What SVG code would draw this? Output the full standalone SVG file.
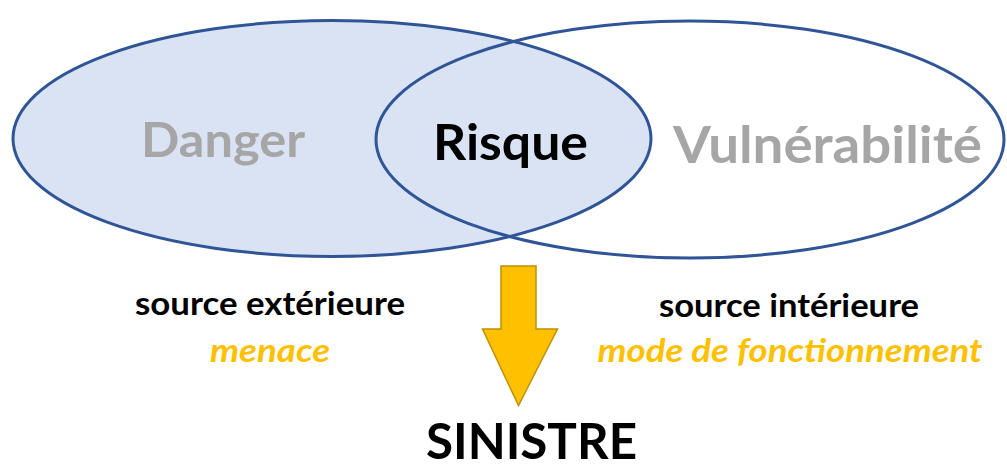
<svg xmlns="http://www.w3.org/2000/svg" width="1007" height="464" viewBox="0 0 1007 464">
  <style>
    .circle { stroke: #2f5597; stroke-width: 3; }
    .big { font-family: Lato, "Open Sans", sans-serif; font-weight: bold; text-anchor: middle; }
    .grey { fill: #a6a6a6; }
    .dark { fill: #000000; }
    .label { font-family: Lato, "Open Sans", sans-serif; font-weight: bold; font-size: 33px; text-anchor: middle; fill: #000000; }
    .accent { font-family: Lato, "Open Sans", sans-serif; font-weight: bold; font-style: italic; font-size: 33px; text-anchor: middle; fill: #ffc000; }
  </style>

  <!-- overlapping sets -->
  <g id="danger">
    <ellipse class="circle" cx="332" cy="138.5" rx="319" ry="118" fill="#dae3f3"/>
    <text class="big grey" x="223" y="157" font-size="47" textLength="164" lengthAdjust="spacingAndGlyphs">Danger</text>
  </g>
  <g id="vulnerabilite">
    <ellipse class="circle" cx="690" cy="139.5" rx="314" ry="118.5" fill="none"/>
    <text class="big grey" x="827.5" y="163" font-size="52" textLength="309" lengthAdjust="spacingAndGlyphs">Vulnérabilité</text>
  </g>
  <g id="risque">
    <text class="big dark" x="510.5" y="160" font-size="50" textLength="155" lengthAdjust="spacingAndGlyphs">Risque</text>
  </g>

  <!-- side annotations -->
  <g id="source-exterieure">
    <text class="label" x="270" y="315" textLength="270" lengthAdjust="spacingAndGlyphs">source extérieure</text>
    <text class="accent" x="270" y="362" textLength="120" lengthAdjust="spacingAndGlyphs">menace</text>
  </g>
  <g id="source-interieure">
    <text class="label" x="789" y="317" textLength="260" lengthAdjust="spacingAndGlyphs">source intérieure</text>
    <text class="accent" x="790" y="362" textLength="385" lengthAdjust="spacingAndGlyphs">mode de fonctionnement</text>
  </g>

  <!-- downward arrow to the outcome -->
  <g id="connectors">
    <path d="M501,266 L536,266 L536,329 L557.5,329 L518.5,405.5 L482.5,329 L501,329 Z" fill="#ffc000" stroke="#bf9000" stroke-width="1.5" stroke-linejoin="miter"/>
  </g>

  <g id="sinistre">
    <text class="big dark" x="531.5" y="459" font-size="50" textLength="211" lengthAdjust="spacingAndGlyphs">SINISTRE</text>
  </g>
</svg>
